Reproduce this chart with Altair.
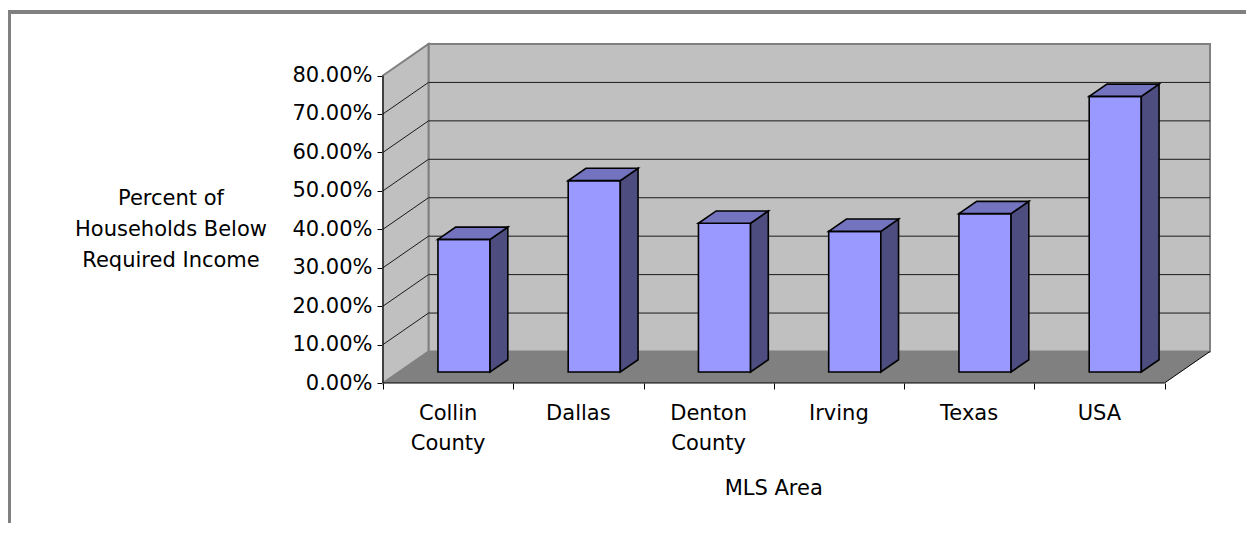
import altair as alt
import pandas as pd

# ---- data ----
categories = ["Collin\nCounty", "Dallas", "Denton\nCounty", "Irving", "Texas", "USA"]
values = [0.345, 0.498, 0.387, 0.366, 0.412, 0.717]
y_ticks = [0.0, 0.1, 0.2, 0.3, 0.4, 0.5, 0.6, 0.7, 0.8]
y_title = "Percent of\nHouseholds Below\nRequired Income"
x_title = "MLS Area"

# ---- 3-D projection parameters (in data units) ----
N = len(categories)
YMAX = 0.8
DX = 0.3493   # wall depth along x (category units)
DY = 0.082    # wall depth along y (value units)
F0, F1 = 0.349, 0.739   # bar front / back depth fraction
HALF = 0.20             # half bar width (category units)

FONT = "DejaVu Sans"
FS = 21

xs = alt.Scale(domain=[0, N + DX], nice=False, zero=False)
ys = alt.Scale(domain=[0, YMAX + DY], nice=False, zero=False)

# ---- walls ----
back_wall = pd.DataFrame([{"x": DX, "x2": N + DX, "y": DY, "y2": DY + YMAX}])
side_wall = pd.DataFrame([
    {"x": 0.0, "y": YMAX, "y2": 0.0},
    {"x": DX, "y": YMAX + DY, "y2": DY},
])
floor = pd.DataFrame([
    {"x": 0.0, "y": 0.0, "y2": 0.0},
    {"x": DX, "y": DY, "y2": 0.0},
    {"x": float(N), "y": DY, "y2": 0.0},
    {"x": N + DX, "y": DY, "y2": DY},
])

grid_rows = []
for v in y_ticks[1:-1]:
    grid_rows.append({"x": DX, "x2": N + DX, "y": DY + v, "y2": DY + v})
    grid_rows.append({"x": 0.0, "x2": DX, "y": v, "y2": DY + v})
grid = pd.DataFrame(grid_rows)

edges = pd.DataFrame([
    {"x": 0.0, "x2": float(N), "y": 0.0, "y2": 0.0},
    {"x": float(N), "x2": N + DX, "y": 0.0, "y2": DY},
    {"x": 0.0, "x2": 0.0, "y": 0.0, "y2": YMAX},
])

# ---- bars ----
front_rows, side_rows, top_rows = [], [], []
dd = (F1 - F0) * DX
for i, (c, v) in enumerate(zip(categories, values)):
    xl = i + 0.5 - HALF + F0 * DX
    xr = i + 0.5 + HALF + F0 * DX
    yb0, yb1 = F0 * DY, F1 * DY
    yt0, yt1 = yb0 + v, yb1 + v
    front_rows.append({"x": xl, "x2": xr, "y": yb0, "y2": yt0, "g": c})
    side_rows += [
        {"x": xr, "y": yt0, "y2": yb0, "g": c},
        {"x": xr + dd, "y": yt1, "y2": yb1, "g": c},
    ]
    top_rows += [
        {"x": xl, "y": yt0, "y2": yt0, "g": c},
        {"x": xl + dd, "y": yt1, "y2": yt0, "g": c},
        {"x": xr, "y": yt1, "y2": yt0, "g": c},
        {"x": xr + dd, "y": yt1, "y2": yt1, "g": c},
    ]
front = pd.DataFrame(front_rows)
side = pd.DataFrame(side_rows)
top = pd.DataFrame(top_rows)

labels = pd.DataFrame({"x": [i + 0.5 for i in range(N)], "label": categories})

X_AX = alt.Axis(values=list(range(N + 1)), labels=False, ticks=True, tickSize=6,
                tickColor="black", tickWidth=1, domain=False, grid=False, title=None)
Y_AX = alt.Axis(values=y_ticks, format=".2%", labelFont=FONT, labelFontSize=FS,
                labelColor="black", tickSize=6, tickColor="black", tickWidth=1,
                labelPadding=5, domain=False, grid=False, title=None)


def X(f="x"):
    return alt.X(f + ":Q", scale=xs, axis=X_AX)


def Y(f="y"):
    return alt.Y(f + ":Q", scale=ys, axis=Y_AX, stack=None)


l_back = alt.Chart(back_wall).mark_rect(fill="#C0C0C0", stroke="#808080", strokeWidth=2).encode(
    x=X(), x2="x2:Q", y=Y(), y2="y2:Q")

l_side = alt.Chart(side_wall).mark_area(fill="#C0C0C0", stroke="#808080", strokeWidth=2, opacity=1).encode(
    x=X(), y=Y(), y2="y2:Q")

l_floor = alt.Chart(floor).mark_area(fill="#808080", opacity=1).encode(
    x=X(), y=Y(), y2="y2:Q")

l_grid = alt.Chart(grid).mark_rule(color="#1a1a1a", strokeWidth=1).encode(
    x=X(), x2="x2:Q", y=Y(), y2="y2:Q")

l_edges = alt.Chart(edges).mark_rule(color="black", strokeWidth=1).encode(
    x=X(), x2="x2:Q", y=Y(), y2="y2:Q")

l_front = alt.Chart(front).mark_rect(fill="#9999FF", stroke="black", strokeWidth=1.6).encode(
    x=X(), x2="x2:Q", y=Y(), y2="y2:Q")

l_sides = alt.Chart(side).mark_area(fill="#4D4D80", stroke="black", strokeWidth=1.6, opacity=1).encode(
    x=X(), y=Y(), y2="y2:Q", detail="g:N")

l_tops = alt.Chart(top).mark_area(fill="#7373BF", stroke="black", strokeWidth=1.6, opacity=1).encode(
    x=X(), y=Y(), y2="y2:Q", detail="g:N")

l_xlabels = alt.Chart(labels).mark_text(font=FONT, fontSize=FS, color="black", align="center",
                                        baseline="alphabetic", lineBreak="\n", lineHeight=30).encode(
    x=X(), y=alt.value(376), text="label:N")

l_xtitle = alt.Chart(pd.DataFrame({"x": [N / 2], "t": [x_title]})).mark_text(
    font=FONT, fontSize=FS, color="black", align="center", baseline="alphabetic").encode(
    x=X(), y=alt.value(451), text="t:N")

l_ytitle = alt.Chart(pd.DataFrame({"t": [y_title]})).mark_text(
    font=FONT, fontSize=FS, color="black", align="center", baseline="middle",
    lineBreak="\n", lineHeight=31).encode(
    x=alt.value(-212), y=alt.value(155), text="t:N")

frame = pd.DataFrame({"k": [0]})
l_frame_top = alt.Chart(frame).mark_rule(color="#808080", strokeWidth=4).encode(
    x=alt.value(-378), x2=alt.value(880), y=alt.value(-32))
l_frame_left = alt.Chart(frame).mark_rule(color="#808080", strokeWidth=4).encode(
    x=alt.value(-374), y=alt.value(-34), y2=alt.value(490))

chart = alt.layer(
    l_back, l_side, l_grid, l_floor, l_edges,
    l_front, l_sides, l_tops,
    l_xlabels, l_xtitle, l_ytitle, l_frame_top, l_frame_left,
).properties(
    width=827, height=339,
    autosize=alt.AutoSizeParams(type="none"),
    padding={"left": 375, "top": 36, "right": 36, "bottom": 140},
).configure_view(stroke=None)

chart.save("out.html", embed_options={"renderer": "svg", "actions": False})
